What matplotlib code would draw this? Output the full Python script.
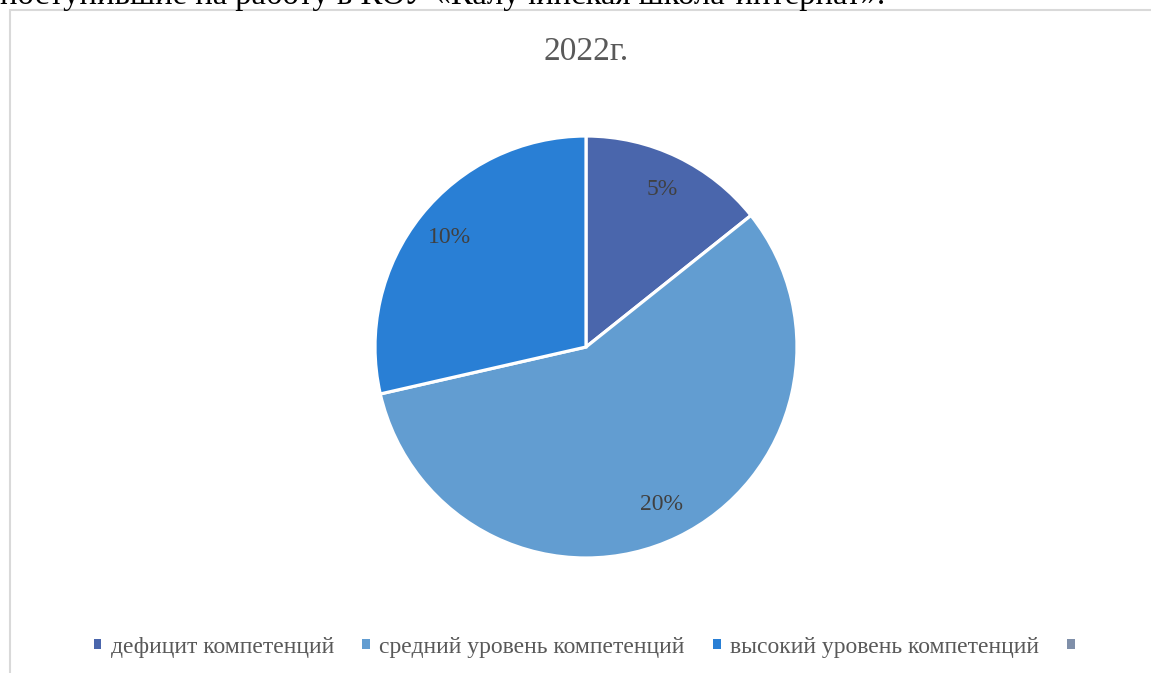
import matplotlib
matplotlib.use("Agg")
import matplotlib.pyplot as plt
from matplotlib.patches import Rectangle, Patch

categories = ["дефицит компетенций", "средний уровень компетенций", "высокий уровень компетенций", ""]
values = [5, 20, 10]
colors = ["#4A66AC", "#629DD1", "#297FD5", "#7F8FA9"]
title = "2022г."
heading = "поступившие на работу в КОУ «Калучинская школа-интернат»."

W, H = 1151, 673
fig = plt.figure(figsize=(W / 100, H / 100), dpi=100)
plt.rcParams['font.family'] = ['Liberation Serif', 'DejaVu Serif']

# frame
fig.patches.append(Rectangle((10 / W, -0.1), 1.2, 1 - 10 / H + 0.1, transform=fig.transFigure,
                             fill=False, edgecolor="#D9D9D9", linewidth=1.5))

# clipped heading at top (cut off by the page edge in the reference)
fig.text(0, 1 - 4 / H, heading, ha="left", va="baseline", fontsize=23.5, color="black")

cx, cy, r = 586, 347, 211
ax = fig.add_axes([(cx - r) / W, 1 - (cy + r) / H, 2 * r / W, 2 * r / H])
total = sum(values)
wedges, texts, autotexts = ax.pie(values, colors=colors[:3], startangle=90, counterclock=False,
       wedgeprops=dict(edgecolor="white", linewidth=2.3),
       autopct=lambda p: f"{round(p * total / 100)}%", pctdistance=0.83,
       textprops=dict(fontsize=17, color="#404040"))
ax.set_xlim(-1, 1)
ax.set_ylim(-1, 1)
ax.set_aspect("auto")
ax.axis("off")

fig.text(cx / W, 1 - 52 / H, title, ha="center", va="center", fontsize=24, color="#595959")

handles = [Patch(facecolor=c, edgecolor="none") for c in colors]
fig.legend(handles, categories, loc="center", bbox_to_anchor=(589 / W, 1 - 647 / H), ncol=4,
           frameon=False, handlelength=0.32, handleheight=0.32, handletextpad=0.4,
           columnspacing=1.2, prop=dict(size=17), labelcolor="#595959")

fig.savefig("out.png", dpi=100)
